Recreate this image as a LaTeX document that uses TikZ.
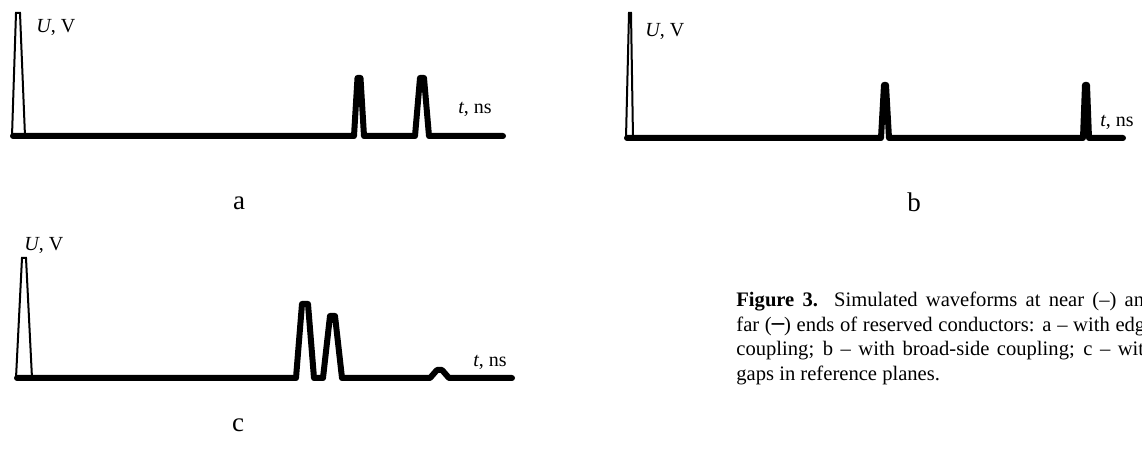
\documentclass[tikz,border=0pt]{standalone}
\usepackage{fontspec}
\setmainfont{Liberation Serif}
\newfontfamily\boxfont{DejaVu Sans}
\begin{document}
\begin{tikzpicture}[x=0.5pt,y=-0.5pt,
  sig/.style={line width=3pt, line join=round, line cap=round},
  nearp/.style={line width=1pt, line join=miter},
  axlab/.style={font=\fontsize{10}{12}\selectfont, inner sep=0, anchor=base west},
  sublab/.style={font=\fontsize{13.5}{16}\selectfont, inner sep=0, anchor=base},
]
\useasboundingbox (0,0) rectangle (1142,454);
% panel a
\draw[sig] (13,136) -- (354,136) -- (357.5,78) -- (360.5,78) -- (364,136)
  -- (415,136) -- (420,78) -- (424,78) -- (429,136) -- (503,136);
\draw[nearp] (12,136) -- (16,13) -- (20,13) -- (25,136);
\node[axlab] (ua) at (36,33) {\textit{U}, V};
\node[axlab] (ta) at (458,114) {\textit{t}, ns};
\node[sublab] (la) at (239,210) {a};
% panel b
\draw[sig] (627,138) -- (881,138) -- (884,85) -- (886,85) -- (889,138)
  -- (1083,138) -- (1085,85) -- (1087,85) -- (1089,138) -- (1123,138);
\draw[nearp] (626,138) -- (629,13) -- (631,13) -- (633,138);
\node[axlab] (ub) at (645,37) {\textit{U}, V};
\node[axlab] (tb) at (1100,127) {\textit{t}, ns};
\node[sublab] (lb) at (914,212) {b};
% panel c
\draw[sig] (17,378) -- (296,378) -- (302,304) -- (308,304) -- (314,378)
  -- (323,378) -- (330,316) -- (335,316) -- (342,378)
  -- (430,378) -- (437,370) -- (442,370) -- (449,378) -- (512,378);
\draw[nearp] (16,378) -- (22,258) -- (26,258) -- (32,378);
\node[axlab] (uc) at (24,251) {\textit{U}, V};
\node[axlab] (tc) at (473,367) {\textit{t}, ns};
\node[sublab] (lc) at (238,432) {c};
% caption
\node[inner sep=0, anchor=base west] (cap) at (736,307)
  {\parbox[t]{209pt}{\fontsize{10.3}{12.25}\selectfont\hyphenpenalty=10000
  \tolerance=10000\emergencystretch=20pt
  \textbf{Figure 3.} Simulated waveforms at near (--) and\linebreak
  far ({\boxfont ─}) ends of reserved conductors: a -- with edge\linebreak
  coupling; b -- with broad-side coupling; c -- with\linebreak
  gaps in reference planes.}};
\end{tikzpicture}
\end{document}
